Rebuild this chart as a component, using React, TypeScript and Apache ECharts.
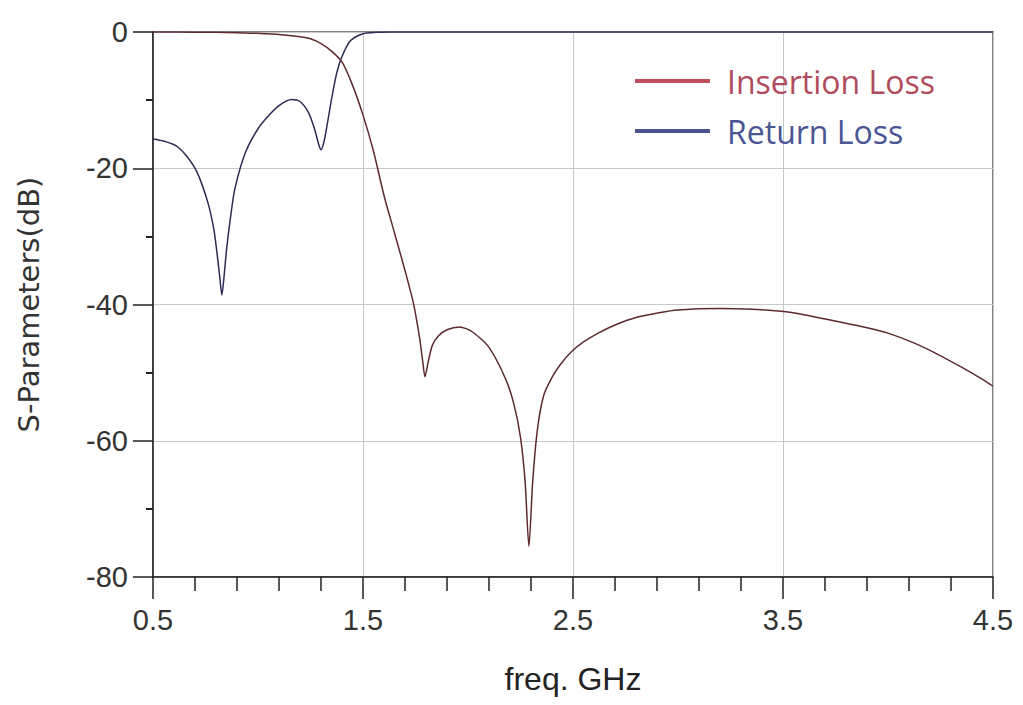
import React, { useEffect, useRef } from "react";
import * as echarts from "echarts";

const ilFreq = [0.5, 0.7, 0.9, 1.0, 1.1, 1.2, 1.25, 1.3, 1.35, 1.4, 1.45, 1.5, 1.55, 1.6, 1.65, 1.7, 1.74, 1.77, 1.785, 1.795, 1.81, 1.83, 1.86, 1.9, 1.96, 2.02, 2.1, 2.18, 2.22, 2.25, 2.272, 2.29, 2.308, 2.33, 2.36, 2.4, 2.44, 2.49, 2.55, 2.62, 2.7, 2.8, 2.91, 3.0, 3.2, 3.35, 3.49, 3.6, 3.76, 3.9, 4.0, 4.12, 4.23, 4.35, 4.45, 4.5];
const ilDb = [0, -0.02, -0.1, -0.2, -0.35, -0.7, -1.0, -1.7, -2.8, -4.4, -7.8, -12.2, -17.5, -24.0, -29.5, -35.0, -39.8, -45.0, -48.5, -50.6, -48.5, -46.0, -44.6, -43.7, -43.3, -44.0, -46.3, -51.0, -54.8, -59.5, -66.0, -75.5, -66.0, -58.5, -53.4, -50.7, -48.8, -47.0, -45.5, -44.2, -43.0, -41.9, -41.2, -40.8, -40.6, -40.7, -41.0, -41.5, -42.5, -43.4, -44.2, -45.6, -47.2, -49.2, -51.0, -52.0];

const rlFreq = [0.5, 0.55, 0.61, 0.66, 0.71, 0.76, 0.79, 0.805, 0.818, 0.828, 0.838, 0.85, 0.87, 0.89, 0.94, 1.0, 1.05, 1.1, 1.16, 1.2, 1.24, 1.27, 1.29, 1.3, 1.315, 1.33, 1.35, 1.375, 1.4, 1.44, 1.5, 1.56, 1.64, 2.5, 3.5, 4.5];
const rlDb = [-15.7, -16.0, -16.7, -18.2, -20.6, -24.9, -29.0, -32.5, -36.0, -38.6, -36.0, -32.0, -27.0, -23.0, -17.7, -14.2, -12.3, -10.8, -9.9, -10.2, -11.8, -14.3, -16.6, -17.3, -16.0, -13.5, -9.9, -6.0, -3.6, -1.3, -0.25, -0.05, 0, 0, 0, 0];

const xMajorTicks = [0.5, 1.5, 2.5, 3.5, 4.5];
const xMinorTicks = [0.7, 0.9, 1.1, 1.3, 1.7, 1.9, 2.1, 2.3, 2.7, 2.9, 3.1, 3.3, 3.7, 3.9, 4.1, 4.3];
const yTicks = [0, -20, -40, -60, -80];

const seriesNames = ["Insertion Loss", "Return Loss"];

export default function App() {
  const ref = useRef<HTMLDivElement>(null);
  useEffect(() => {
    document.body.style.margin = "0";
    if (!ref.current) return;
    const chart = echarts.init(ref.current, null, { renderer: "svg" });
    const tickFont = "'Liberation Sans Narrow', 'Liberation Sans', Arial, sans-serif";
    const gridBox = { left: 153, right: 30, top: 32, bottom: 128 };
    chart.setOption({
      animation: false,
      backgroundColor: "#ffffff",
      grid: [
        { ...gridBox, show: true, borderColor: "#5a5a5a", borderWidth: 1.5 },
        { ...gridBox, show: false },
      ],
      legend: {
        orient: "vertical",
        left: 630,
        top: 58,
        itemWidth: 75,
        itemHeight: 4,
        itemGap: 14,
        icon: "rect",
        textStyle: {
          fontFamily: "'Open Sans', sans-serif",
          fontSize: 32,
          lineHeight: 36,
          padding: [0, 0, 0, 12],
        },
        data: [
          { name: seriesNames[0], itemStyle: { color: "#c24d5d" }, textStyle: { color: "#b04c5c" } },
          { name: seriesNames[1], itemStyle: { color: "#4a5290" }, textStyle: { color: "#4a5594" } },
        ],
      },
      xAxis: [
        {
          type: "value",
          gridIndex: 0,
          min: 0.5,
          max: 4.5,
          name: "freq. GHz",
          nameLocation: "middle",
          nameGap: 86,
          nameTextStyle: { fontFamily: tickFont, fontSize: 32, color: "#222" },
          axisLine: { show: true, onZero: false, lineStyle: { color: "#222", width: 1.5 } },
          axisTick: { show: true, length: 22, customValues: xMajorTicks, lineStyle: { color: "#222", width: 1.5 } },
          axisLabel: {
            customValues: xMajorTicks,
            margin: 28,
            fontFamily: tickFont,
            fontSize: 29,
            color: "#333",
            formatter: (v: number) => v.toFixed(1),
          },
          splitLine: { show: true, lineStyle: { color: "#c8c8c8", width: 1 } },
        },
        {
          type: "value",
          gridIndex: 1,
          min: 0.5,
          max: 4.5,
          position: "bottom",
          axisLine: { show: false, onZero: false },
          axisLabel: { show: false },
          splitLine: { show: false },
          axisTick: { show: true, length: 14, customValues: xMinorTicks, lineStyle: { color: "#222", width: 1.5 } },
        },
      ],
      yAxis: [
        {
          type: "value",
          gridIndex: 0,
          min: -80,
          max: 0,
          interval: 20,
          name: "S-Parameters(dB)",
          nameLocation: "middle",
          nameGap: 110,
          nameTextStyle: { fontFamily: "'DejaVu Sans', sans-serif", fontSize: 29, color: "#333" },
          axisLine: { show: true, onZero: false, lineStyle: { color: "#222", width: 1.5 } },
          axisTick: { show: true, length: 20, customValues: yTicks, lineStyle: { color: "#222", width: 1.5 } },
          minorTick: { show: true, splitNumber: 2, length: 7, lineStyle: { color: "#222", width: 2 } },
          axisLabel: { margin: 25, fontFamily: tickFont, fontSize: 29, color: "#333" },
          splitLine: { show: true, lineStyle: { color: "#c8c8c8", width: 1 } },
        },
        {
          type: "value",
          gridIndex: 1,
          min: -80,
          max: 0,
          show: false,
        },
      ],
      series: [
        {
          name: seriesNames[1],
          type: "line",
          xAxisIndex: 0,
          yAxisIndex: 0,
          showSymbol: false,
          symbol: "none",
          smooth: 0.25,
          color: "#4a5290",
          lineStyle: { color: "#2c2c55", width: 1.5 },
          data: rlFreq.map((f, i) => [f, rlDb[i]]),
          z: 3,
        },
        {
          name: seriesNames[0],
          type: "line",
          xAxisIndex: 0,
          yAxisIndex: 0,
          showSymbol: false,
          symbol: "none",
          smooth: 0.25,
          color: "#c24d5d",
          lineStyle: { color: "#5e2a2e", width: 1.5 },
          data: ilFreq.map((f, i) => [f, ilDb[i]]),
          z: 4,
        },
      ],
    });
    return () => chart.dispose();
  }, []);
  return <div ref={ref} style={{ width: 1023, height: 705 }} />;
}
